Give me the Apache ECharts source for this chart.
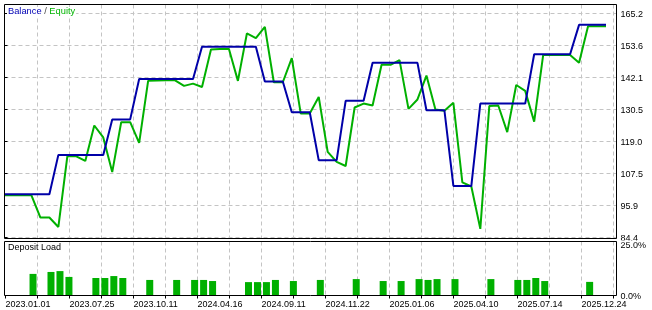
<!DOCTYPE html>
<html><head><meta charset="utf-8">
<script src="https://cdn.jsdelivr.net/npm/echarts@6/dist/echarts.min.js"></script>
<style>html,body{margin:0;padding:0;background:#fff}#c{width:652px;height:310px}</style>
</head><body><div id="c"></div>
<script>
// Balance after each deal
const balance = [
  100.0,100.0,100.0,100.0,100.0,100.0,
  114.2,114.2,114.2,114.2,114.2,114.2,
  127.0,127.0,127.0,
  141.6,141.6,141.6,141.6,141.6,141.6,141.6,
  153.2,153.2,153.2,153.2,153.2,153.2,153.2,
  140.7,140.7,140.7,
  129.6,129.6,129.6,
  112.3,112.3,112.3,
  133.7,133.7,133.7,
  147.4,147.4,147.4,147.4,147.4,147.4,
  130.3,130.3,130.3,
  103.0,103.0,103.0,
  132.7,132.7,132.7,132.7,132.7,132.7,
  150.5,150.5,150.5,150.5,150.5,
  161.1,161.1,161.1,161.1
];
// Equity at each deal
const equity = [
  99.6,99.6,99.6,99.6,91.6,91.6,88.2,113.7,113.7,112.0,
  124.8,120.5,108.0,126.0,126.0,118.5,140.9,141.0,141.1,141.1,
  139.1,139.9,138.7,152.2,152.4,152.4,140.9,158.0,156.3,160.4,
  140.4,140.4,149.1,129.1,129.1,135.1,115.3,111.7,110.2,131.3,
  132.7,132.0,146.7,146.7,148.4,130.8,134.2,142.8,130.6,130.1,
  133.0,104.3,102.8,87.5,131.8,132.0,122.4,139.4,137.3,126.2,
  150.2,150.2,150.2,150.2,147.4,160.6,160.6,160.6
];
// Deposit load, % (null = no open position)
const depositLoad = [
  null,null,null,10.0,null,10.9,11.3,8.6,null,null,
  8.1,8.1,9.0,8.1,null,null,7.2,null,null,7.2,
  null,7.2,7.2,6.7,null,null,null,6.2,6.2,6.2,
  7.2,null,6.7,null,null,7.2,null,null,null,7.6,
  null,null,6.7,null,6.7,null,7.6,7.2,7.6,null,
  7.6,null,null,null,7.6,null,null,7.2,7.2,8.1,
  6.7,null,null,null,null,6.3,null,null
];
const dateLabels = ['2023.01.01','2023.07.25','2023.10.11','2024.04.16','2024.09.11',
  '2024.11.22','2025.01.06','2025.04.10','2025.07.14','2025.12.24'];
const balanceTicks = ['84.4','95.9','107.5','119.0','130.5','142.1','153.6','165.2'];
const loadTicks = ['0.0%','25.0%'];
const deals = balance.map((_, i) => String(i + 1));

const FONT = 'Liberation Sans';
const grid = '#c4c4c4';
const chart = echarts.init(document.getElementById('c'), null, {renderer: 'canvas'});
chart.setOption({
  animation: false,
  backgroundColor: '#fff',
  textStyle: {fontFamily: FONT},
  title: [
    {text: '{b|Balance} {s|/} {e|Equity}', left: 7, top: 7, padding: [0, 1, 0, 1],
      backgroundColor: '#fff',
      textStyle: {fontSize: 9.3, fontWeight: 'normal', fontFamily: FONT,
        rich: {b: {color: '#0000b4', fontSize: 9.3, fontFamily: FONT},
               s: {color: '#404040', fontSize: 9.3, fontFamily: FONT},
               e: {color: '#00b400', fontSize: 9.3, fontFamily: FONT}}}},
    {text: 'Deposit Load', left: 7, top: 243.5, padding: [0, 1, 0, 1], backgroundColor: '#fff',
      textStyle: {fontSize: 9, fontWeight: 'normal', color: '#000', fontFamily: FONT}}
  ],
  grid: [
    {left: 4.5, top: 4.5, width: 601.5, height: 234},      // 0 main data
    {left: 4.5, top: 13.5, width: 612, height: 224},        // 1 main y helper
    {left: 37.5, top: 4.5, width: 579, height: 234},        // 2 main x gridlines
    {left: 6.1, top: 241.5, width: 601.5, height: 54},      // 3 lower data
    {left: 37.5, top: 241.5, width: 579, height: 54},       // 4 lower x gridlines
    {left: 5.5, top: 241.5, width: 611, height: 54},        // 5 date labels
    {left: 4.5, top: 241.5, width: 612, height: 54}         // 6 lower y axis
  ],
  xAxis: [
    {gridIndex: 0, type: 'category', data: deals, boundaryGap: false, show: false},
    {gridIndex: 1, type: 'value', min: 0, max: 1, show: false},
    {gridIndex: 2, type: 'value', min: 32, max: 611, interval: 32,
      axisLine: {show: false}, axisTick: {show: false}, axisLabel: {show: false},
      splitLine: {show: true, lineStyle: {color: grid, type: [4, 3], width: 1}}},
    {gridIndex: 3, type: 'category', data: deals, boundaryGap: false, show: false},
    {gridIndex: 4, type: 'value', min: 32, max: 611, interval: 32,
      axisLine: {show: false}, axisTick: {show: false}, axisLabel: {show: false},
      splitLine: {show: true, lineStyle: {color: grid, type: [4, 3], width: 1}}},
    {gridIndex: 5, type: 'value', min: 0, max: 611, interval: 32, position: 'bottom',
      axisLine: {show: false},
      axisTick: {show: true, length: 3, lineStyle: {color: '#000'}},
      axisLabel: {show: true, align: 'left', margin: 5, fontSize: 9, color: '#000', fontFamily: FONT,
        hideOverlap: false, showMinLabel: true, showMaxLabel: false,
        formatter: v => (v % 64 === 0) ? (dateLabels[v / 64] || '') : ''},
      splitLine: {show: false}},
    {gridIndex: 6, type: 'value', min: 0, max: 1, show: false}
  ],
  yAxis: [
    {gridIndex: 0, type: 'value', min: 84.039, max: 168.446, show: false},
    {gridIndex: 1, type: 'value', min: 0, max: 224, interval: 32, position: 'right',
      axisLine: {show: false},
      axisTick: {show: true, length: 3, lineStyle: {color: '#000'}},
      axisLabel: {show: true, margin: 4, fontSize: 9, color: '#000', fontFamily: FONT,
        showMinLabel: true, showMaxLabel: true,
        formatter: v => '{a|' + balanceTicks[Math.round(v / 32)] + '}',
        rich: {a: {fontSize: 9, fontFamily: FONT, color: '#000', padding: [3, 0, 0, 0]}}},
      splitLine: {show: true, lineStyle: {color: grid, type: [4, 3], width: 1}}},
    {gridIndex: 2, type: 'value', min: 0, max: 1, show: false},
    {gridIndex: 3, type: 'value', min: 0, max: 25, show: false},
    {gridIndex: 4, type: 'value', min: 0, max: 1, show: false},
    {gridIndex: 5, type: 'value', min: 0, max: 1, show: false},
    {gridIndex: 6, type: 'value', min: 0, max: 25, interval: 25, position: 'right',
      axisLine: {show: false}, axisTick: {show: false}, splitLine: {show: false},
      axisLabel: {show: true, margin: 4, fontSize: 9, color: '#000', fontFamily: FONT,
        showMinLabel: true, showMaxLabel: true,
        formatter: v => v >= 25 ? '{t|' + loadTicks[1] + '}' : '{z|' + loadTicks[0] + '}',
        rich: {t: {fontSize: 9, fontFamily: FONT, color: '#000', padding: [9, 0, 0, 0]},
               z: {fontSize: 9, fontFamily: FONT, color: '#000', padding: [3, 0, 0, 0]}}}}
  ],
  series: [
    {name: 'Equity', type: 'line', xAxisIndex: 0, yAxisIndex: 0, data: equity,
      showSymbol: false, symbol: 'none', clip: false, z: 3,
      lineStyle: {color: '#00b000', width: 2}},
    {name: 'Balance', type: 'line', xAxisIndex: 0, yAxisIndex: 0, data: balance,
      showSymbol: false, symbol: 'none', clip: false, z: 4,
      lineStyle: {color: '#0000a8', width: 2}},
    {name: 'Deposit Load', type: 'bar', xAxisIndex: 3, yAxisIndex: 3, data: depositLoad,
      barWidth: 7, itemStyle: {color: '#00b000'}, z: 3}
  ],
  graphic: [
    {type: 'rect', z: 90, silent: true, shape: {x: 617, y: 240.6, width: 35, height: 1.7},
      style: {fill: '#fff', stroke: 'none'}},
    {type: 'rect', z: 100, silent: true, shape: {x: 4.5, y: 4.5, width: 612, height: 234},
      style: {fill: 'none', stroke: '#000', lineWidth: 1}},
    {type: 'rect', z: 100, silent: true, shape: {x: 4.5, y: 241.5, width: 612, height: 54},
      style: {fill: 'none', stroke: '#000', lineWidth: 1}}
  ]
});
</script></body></html>
